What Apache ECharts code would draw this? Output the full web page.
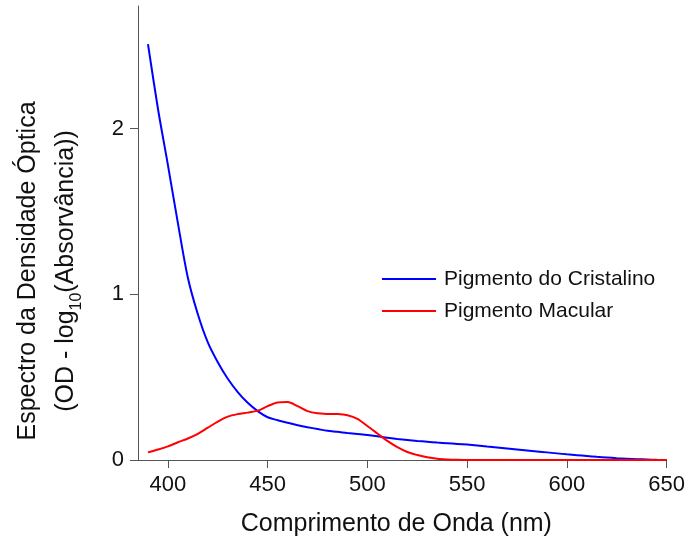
<!DOCTYPE html>
<html>
<head>
<meta charset="utf-8">
<script src="https://cdn.jsdelivr.net/npm/echarts@6/dist/echarts.min.js"></script>
<style>html,body{margin:0;padding:0;background:#fff}#c{width:688px;height:542px}</style>
</head>
<body>
<div id="c"></div>
<script>
var wavelengths = [390,395,400,405,410,415,420,425,430,435,440,445,450,455,460,465,470,475,480,485,490,495,500,505,510,515,520,525,530,535,540,545,550,555,560,565,570,575,580,585,590,595,600,605,610,615,620,625,630,635,640,645,650];
var cristalino = [2.51,2.12,1.78,1.43,1.10,0.88,0.71,0.59,0.49,0.41,0.345,0.295,0.258,0.24,0.225,0.21,0.198,0.187,0.176,0.17,0.163,0.157,0.151,0.143,0.134,0.127,0.121,0.115,0.11,0.105,0.101,0.097,0.093,0.088,0.082,0.076,0.07,0.064,0.058,0.052,0.046,0.04,0.034,0.029,0.024,0.019,0.015,0.011,0.008,0.005,0.003,0.001,0.0];
var macular = [0.046,0.063,0.082,0.107,0.13,0.158,0.195,0.232,0.262,0.277,0.286,0.298,0.325,0.347,0.35,0.325,0.295,0.282,0.278,0.277,0.27,0.248,0.205,0.16,0.115,0.077,0.048,0.03,0.016,0.007,0.003,0.001,0,0,0,0,0,0,0,0,0,0,0,0,0,0,0,0,0,0,0,0,0];
var xTicks = [400,450,500,550,600,650];
var yTicks = [0,1,2];
var seriesNames = ['Pigmento do Cristalino','Pigmento Macular'];

function pairs(ys){ return wavelengths.map(function(w,i){ return [w, ys[i]]; }); }

var FONT = '"Liberation Sans", Arial, sans-serif';
var chart = echarts.init(document.getElementById('c'), null, {renderer:'canvas'});
chart.setOption({
  animation: false,
  backgroundColor: '#fff',
  grid: {left: 138, right: 20, top: 6, bottom: 82},
  legend: {
    orient: 'vertical', left: 377, top: 263,
    icon: 'rect', itemWidth: 54, itemHeight: 2, itemGap: 10,
    textStyle: {fontFamily: FONT, fontSize: 21, color: '#111', lineHeight: 22, padding: [0,0,0,3]},
    data: seriesNames
  },
  xAxis: {
    type: 'value', min: 385, max: 650,
    name: 'Comprimento de Onda (nm)', nameLocation: 'middle', nameGap: 52,
    nameTextStyle: {fontFamily: FONT, fontSize: 25, color: '#111', padding: [0,12,0,0]},
    axisLine: {show: true, lineStyle: {color: '#555', width: 1}},
    axisTick: {show: true, length: 8, inside: false, customValues: xTicks, lineStyle: {color: '#555'}},
    axisLabel: {customValues: xTicks, fontFamily: FONT, fontSize: 22, color: '#111', margin: 14},
    splitLine: {show: false}
  },
  yAxis: {
    type: 'value', min: 0, max: 2.74,
    name: '{n|Espectro da Densidade Óptica}\n{n|(OD - log}{s|10}{n|(Absorvância))}',
    nameLocation: 'middle', nameRotate: 90, nameGap: 53,
    nameTextStyle: {
      fontFamily: FONT, color: '#111', padding: [0,76,0,0],
      rich: {
        n: {fontFamily: FONT, fontSize: 25, color: '#111', lineHeight: 38},
        s: {fontFamily: FONT, fontSize: 16, color: '#111', lineHeight: 38, verticalAlign: 'bottom'}
      }
    },
    axisLine: {show: true, lineStyle: {color: '#555', width: 1}},
    axisTick: {show: true, length: 8, inside: false, customValues: yTicks, lineStyle: {color: '#555'}},
    axisLabel: {customValues: yTicks, fontFamily: FONT, fontSize: 22, color: '#111', margin: 14},
    splitLine: {show: false}
  },
  series: [
    {name: seriesNames[0], type: 'line', data: pairs(cristalino), symbol: 'none', smooth: 0.3,
     lineStyle: {color: '#0000ff', width: 2}, itemStyle: {color: '#0000ff'}},
    {name: seriesNames[1], type: 'line', data: pairs(macular), symbol: 'none', smooth: 0.3,
     lineStyle: {color: '#ff0000', width: 2}, itemStyle: {color: '#ff0000'}}
  ]
});
</script>
</body>
</html>
